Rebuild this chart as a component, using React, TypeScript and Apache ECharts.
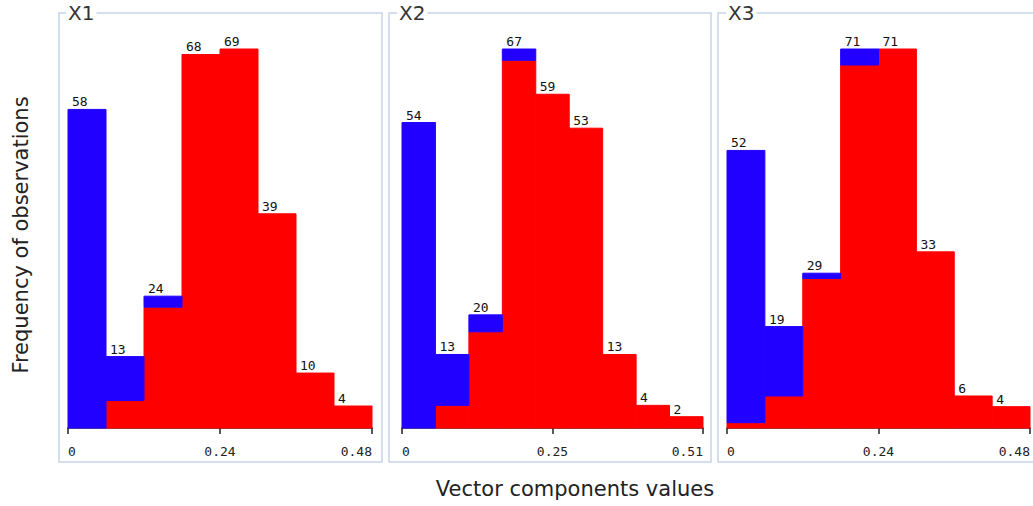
import React, { useEffect, useRef } from "react";
import * as echarts from "echarts";

// ---- data ----
const panelNames = ["X1", "X2", "X3"];
const axisMax = [0.48, 0.51, 0.48];
const tickLabels = [
  ["0", "0.24", "0.48"],
  ["0", "0.25", "0.51"],
  ["0", "0.24", "0.48"],
];
// totals per bin
const totalsX1 = [58, 13, 24, 68, 69, 39, 10, 4];
const totalsX2 = [54, 13, 20, 67, 59, 53, 13, 4, 2];
const totalsX3 = [52, 19, 29, 71, 71, 33, 6, 4];
// red part (bottom) per bin
const redX1 = [0, 5, 22, 68, 69, 39, 10, 4];
const redX2 = [0, 4, 17, 65, 59, 53, 13, 4, 2];
const redX3 = [1, 6, 28, 68, 71, 33, 6, 4];

const totals = [totalsX1, totalsX2, totalsX3];
const reds = [redX1, redX2, redX3];

const BLUE = "#2200ff";
const RED = "#ff0000";

const gridLefts = [68, 402, 727];
const gridWidths = [304, 301, 304];
const panelRects = [
  { x: 59, w: 323 },
  { x: 389, w: 322 },
  { x: 718, w: 320 },
];
const titleX = [66, 397, 726];

export default function App() {
  const ref = useRef<HTMLDivElement>(null);
  useEffect(() => {
    if (!ref.current) return;
    const chart = echarts.init(ref.current, undefined, { renderer: "svg" });

    const grid: any[] = [];
    const xAxis: any[] = [];
    const yAxis: any[] = [];
    const series: any[] = [];
    const graphic: any[] = [];

    panelNames.forEach((name, p) => {
      const n = totals[p].length;
      const maxX = axisMax[p];
      const bw = maxX / n;
      const labels = tickLabels[p];
      grid.push({ left: gridLefts[p], width: gridWidths[p], top: 49, height: 379 });
      xAxis.push({
        type: "value",
        gridIndex: p,
        min: 0,
        max: maxX,
        interval: maxX / 2,
        offset: 3,
        splitLine: { show: false },
        axisLine: { show: true, lineStyle: { color: "#222", width: 1.5 } },
        axisTick: { show: true, length: 6, lineStyle: { color: "#222", width: 1.5 } },
        axisLabel: {
          margin: 14,
          fontFamily: "DejaVu Sans Mono",
          fontSize: 13,
          color: "#222",
          alignMinLabel: "left",
          alignMaxLabel: "right",
          formatter: (v: number) => labels[Math.round(v / (maxX / 2))] ?? "",
        },
      });
      yAxis.push({
        type: "value",
        gridIndex: p,
        min: 0,
        max: Math.max(...totals[p]),
        show: false,
        splitLine: { show: false },
      });
      const redData = reds[p].map((r, i) => [i * bw, (i + 1) * bw, 0, r]);
      const blueData = totals[p].map((t, i) => [i * bw, (i + 1) * bw, reds[p][i], t]);
      const rectRender = (color: string, withLabel: boolean) => (params: any, api: any) => {
        const x0 = api.value(0), x1 = api.value(1), lo = api.value(2), hi = api.value(3);
        const a = api.coord([x0, lo]);
        const b = api.coord([x1, hi]);
        const children: any[] = [];
        if (hi > lo) {
          children.push({
            type: "rect",
            shape: { x: a[0], y: b[1], width: b[0] - a[0], height: a[1] - b[1] },
            style: { fill: color, stroke: color, lineWidth: 1 },
          });
        }
        if (withLabel) {
          children.push({
            type: "text",
            x: a[0] + 4,
            y: b[1] - 1,
            style: {
              text: String(hi),
              fill: "#111",
              font: "13px 'DejaVu Sans Mono'",
              align: "left",
              verticalAlign: "bottom",
              textAlign: "left",
              textVerticalAlign: "bottom",
            },
          });
        }
        return { type: "group", children };
      };
      series.push({
        type: "custom",
        xAxisIndex: p,
        yAxisIndex: p,
        data: redData,
        renderItem: rectRender(RED, false),
        encode: { x: [0, 1], y: [2, 3] },
        clip: false,
      });
      series.push({
        type: "custom",
        xAxisIndex: p,
        yAxisIndex: p,
        data: blueData,
        renderItem: rectRender(BLUE, true),
        encode: { x: [0, 1], y: [2, 3] },
        clip: false,
        z: 3,
      });
      graphic.push({
        type: "rect",
        shape: { x: panelRects[p].x, y: 13, width: panelRects[p].w, height: 449 },
        style: { fill: "none", stroke: "#c6d3e6", lineWidth: 1.5 },
        z: -1,
      });
      graphic.push({
        type: "text",
        x: titleX[p],
        y: 13,
        style: {
          text: name,
          font: "20px 'DejaVu Sans'",
          fill: "#333",
          backgroundColor: "#fff",
          padding: [0, 2, 0, 2],
          verticalAlign: "middle",
          textVerticalAlign: "middle",
        },
        z: 10,
      });
    });

    graphic.push({
      type: "text",
      x: 575,
      y: 489,
      style: {
        text: "Vector components values",
        font: "21px 'DejaVu Sans'",
        fill: "#222",
        align: "center",
        verticalAlign: "middle",
        textAlign: "center",
        textVerticalAlign: "middle",
      },
    });
    graphic.push({
      type: "text",
      x: 21,
      y: 235,
      rotation: Math.PI / 2,
      style: {
        text: "Frequency of observations",
        font: "21px 'DejaVu Sans'",
        fill: "#222",
        align: "center",
        verticalAlign: "middle",
        textAlign: "center",
        textVerticalAlign: "middle",
      },
    });

    chart.setOption({
      animation: false,
      backgroundColor: "#fff",
      grid,
      xAxis,
      yAxis,
      series,
      graphic,
    });
    return () => chart.dispose();
  }, []);
  return (
    <div
      ref={ref}
      style={{ position: "fixed", left: 0, top: 0, width: 1033, height: 506 }}
    />
  );
}
